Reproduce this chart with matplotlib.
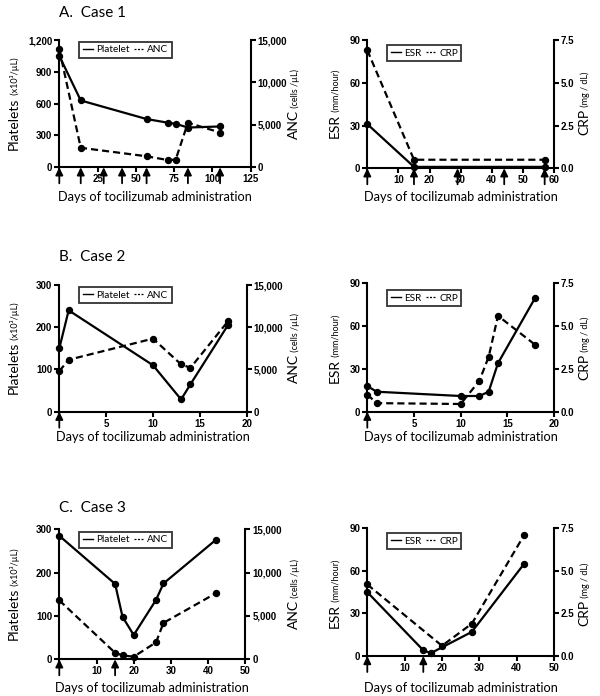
import matplotlib
matplotlib.use('Agg')
import matplotlib.pyplot as plt
from matplotlib.lines import Line2D

# ---- data ----
# Case 1
plat_days_a = [0, 14, 57, 71, 76, 84, 105]
plat_a = [1050, 630, 455, 420, 410, 375, 385]
anc_days_a = [0, 14, 57, 71, 76, 84, 105]
anc_a = [13900, 2300, 1300, 850, 900, 5250, 4100]
esr_days_a = [0, 15, 57]
esr_a = [31, 1, 1]
crp_days_a = [0, 15, 57]
crp_a = [6.9, 0.5, 0.5]
doses_a_left = [0, 14, 29, 41, 57, 84, 105]
doses_a_right = [0, 15, 29, 44, 57]

# Case 2
plat_days_b = [0, 1, 10, 13, 14, 18]
plat_b = [150, 240, 110, 29, 65, 205]
anc_days_b = [0, 1, 10, 13, 14, 18]
anc_b = [4800, 6150, 8650, 5600, 5200, 10700]
esr_days_b = [0, 1, 10, 12, 13, 14, 18]
esr_b = [18, 14, 11, 11, 14, 34, 80]
crp_days_b = [0, 1, 10, 12, 13, 14, 18]
crp_b = [1.0, 0.5, 0.45, 1.8, 3.2, 5.6, 3.9]
doses_b = [0]

# Case 3
plat_days_c = [0, 15, 17, 20, 26, 28, 42]
plat_c = [285, 174, 98, 56, 137, 175, 275]
anc_days_c = [0, 15, 17, 20, 26, 28, 42]
anc_c = [6800, 750, 450, 300, 1950, 4200, 7600]
esr_days_c = [0, 15, 17, 28, 42]
esr_c = [45, 4, 2, 17, 65]
crp_days_c = [0, 20, 28, 42]
crp_c = [4.2, 0.6, 1.9, 7.1]
doses_c = [0, 15]

W, H = 600, 696
fig = plt.figure(figsize=(6, 6.96), dpi=100)
renderer = fig.canvas.get_renderer()
FONT = ['Lato', 'DejaVu Sans']
TICK = dict(family='Liberation Sans', fontweight='bold', fontsize=7)
DASH = (3.2, 1.8)


def box(x0, x1, ytop, ybot):
    return [x0 / W, 1 - ybot / H, (x1 - x0) / W, (ybot - ytop) / H]


def comma(v):
    return '{:,.0f}'.format(v)


def onedec(v):
    return '{:.1f}'.format(v)


def vlabel(x, yc, big, small):
    t1 = fig.text(0, 0, big, fontsize=10, family=FONT, rotation=90,
                  rotation_mode='anchor', ha='left', va='baseline')
    t2 = fig.text(0, 0, ' ' + small, fontsize=6.5, family=FONT, rotation=90,
                  rotation_mode='anchor', ha='left', va='baseline')
    h1 = t1.get_window_extent(renderer).height
    h2 = t2.get_window_extent(renderer).height
    yb = yc + (h1 + h2) / 2
    t1.set_position((x / W, 1 - yb / H))
    t2.set_position((x / W, 1 - (yb - h1) / H))


def style(ax, ax2):
    for a in (ax, ax2):
        for s in a.spines.values():
            s.set_linewidth(1.5)
        a.spines['top'].set_visible(False)
        a.tick_params(width=1.5, length=3.5, pad=1.5)
    ax.spines['right'].set_visible(False)
    ax2.spines['left'].set_visible(False)
    ax2.spines['bottom'].set_visible(False)


def arrows(ax, days):
    for d in days:
        ax.annotate('', xy=(d, 0), xycoords=('data', 'axes fraction'),
                    xytext=(0, -16), textcoords='offset pixels',
                    arrowprops=dict(arrowstyle='-|>,head_length=0.45,head_width=0.22',
                                    lw=1.3, color='k', shrinkA=0, shrinkB=0),
                    annotation_clip=False)


def legend(ax, names, x0, ytop):
    h = [Line2D([], [], color='k', lw=1.0),
         Line2D([], [], color='k', lw=0.9, dashes=(1.6, 1.2))]
    leg = ax.legend(h, names, loc='upper left', bbox_to_anchor=(x0 / W, 1 - ytop / H),
                    bbox_transform=fig.transFigure, ncol=2, frameon=True, fancybox=False,
                    handlelength=1.0, handletextpad=0.3, columnspacing=0.5,
                    borderpad=0.35, borderaxespad=0, prop={'family': FONT, 'size': 7.2})
    fr = leg.get_frame()
    fr.set_edgecolor('k')
    fr.set_linewidth(1.3)


def panel(rect, d1, v1, d2, v2, xmax, xticks, y1max, y1ticks, y2max, y2ticks,
          y2fmt, names, doses, leg_top):
    ax = fig.add_axes(rect)
    ax2 = ax.twinx()
    kw = dict(color='k', marker='o', ms=4.3, lw=1.6, clip_on=False)
    ax.plot(d1, v1, **kw)
    ax2.plot(d2, v2, dashes=DASH, **kw)
    ax.set_xlim(0, xmax)
    ax.set_xticks(xticks, [''] + [str(t) for t in xticks[1:]], **TICK)
    ax.set_ylim(0, y1max)
    ax.set_yticks(y1ticks, [comma(t) for t in y1ticks], **TICK)
    ax2.set_ylim(0, y2max)
    ax2.set_yticks(y2ticks, [y2fmt(t) for t in y2ticks], **TICK)
    style(ax, ax2)
    arrows(ax, doses)
    x0 = rect[0] * W
    legend(ax2, names, x0 + 20, leg_top)
    return ax


XL = 'Days of tocilizumab administration'
rows = [
    dict(L=box(59.3, 250.7, 40, 167.3), R=box(367.3, 554, 40, 168.3),
         title='A.  Case 1', ty=13, xly=197, lt=(42, 45)),
    dict(L=box(59.3, 246.7, 285, 411.7), R=box(367.3, 554, 283.3, 411.7),
         title='B.  Case 2', ty=257, xly=437, lt=(287, 290)),
    dict(L=box(59.3, 245.3, 529.3, 659.3), R=box(367.3, 554, 528.3, 656),
         title='C.  Case 3', ty=508, xly=688, lt=(532, 533)),
]

# Case 1
panel(rows[0]['L'], plat_days_a, plat_a, anc_days_a, anc_a, 125, [0, 25, 50, 75, 100, 125],
      1200, [0, 300, 600, 900, 1200], 15000, [0, 5000, 10000, 15000], comma,
      ['Platelet', 'ANC'], doses_a_left, rows[0]['lt'][0])
panel(rows[0]['R'], esr_days_a, esr_a, crp_days_a, crp_a, 60, [0, 10, 20, 30, 40, 50, 60],
      90, [0, 30, 60, 90], 7.5, [0, 2.5, 5, 7.5], onedec,
      ['ESR', 'CRP'], doses_a_right, rows[0]['lt'][1])
# Case 2
panel(rows[1]['L'], plat_days_b, plat_b, anc_days_b, anc_b, 20, [0, 5, 10, 15, 20],
      300, [0, 100, 200, 300], 15000, [0, 5000, 10000, 15000], comma,
      ['Platelet', 'ANC'], doses_b, rows[1]['lt'][0])
panel(rows[1]['R'], esr_days_b, esr_b, crp_days_b, crp_b, 20, [0, 5, 10, 15, 20],
      90, [0, 30, 60, 90], 7.5, [0, 2.5, 5, 7.5], onedec,
      ['ESR', 'CRP'], doses_b, rows[1]['lt'][1])
# Case 3
panel(rows[2]['L'], plat_days_c, plat_c, anc_days_c, anc_c, 50, [0, 10, 20, 30, 40, 50],
      300, [0, 100, 200, 300], 15000, [0, 5000, 10000, 15000], comma,
      ['Platelet', 'ANC'], doses_c, rows[2]['lt'][0])
panel(rows[2]['R'], esr_days_c, esr_c, crp_days_c, crp_c, 50, [0, 10, 20, 30, 40, 50],
      90, [0, 30, 60, 90], 7.5, [0, 2.5, 5, 7.5], onedec,
      ['ESR', 'CRP'], doses_c, rows[2]['lt'][1])

for r in rows:
    fig.text(59 / W, 1 - r['ty'] / H, r['title'], fontsize=11, family=FONT, va='center')
    for rect in (r['L'], r['R']):
        cx = (rect[0] + rect[2] / 2)
        fig.text(cx, 1 - r['xly'] / H, XL, fontsize=9.2, family=FONT, ha='center', va='center')
    ytop = (1 - r['L'][1] - r['L'][3]) * H
    yc = ytop + r['L'][3] * H / 2
    vlabel(18, yc, 'Platelets', '(x10\u00b3/\u00b5L)')
    vlabel(298, yc, 'ANC', '(cells /\u00b5L)')
    vlabel(339, yc, 'ESR', '(mm/hour)')
    vlabel(588, yc, 'CRP', '(mg / dL)')

fig.savefig('out.png', dpi=100)
